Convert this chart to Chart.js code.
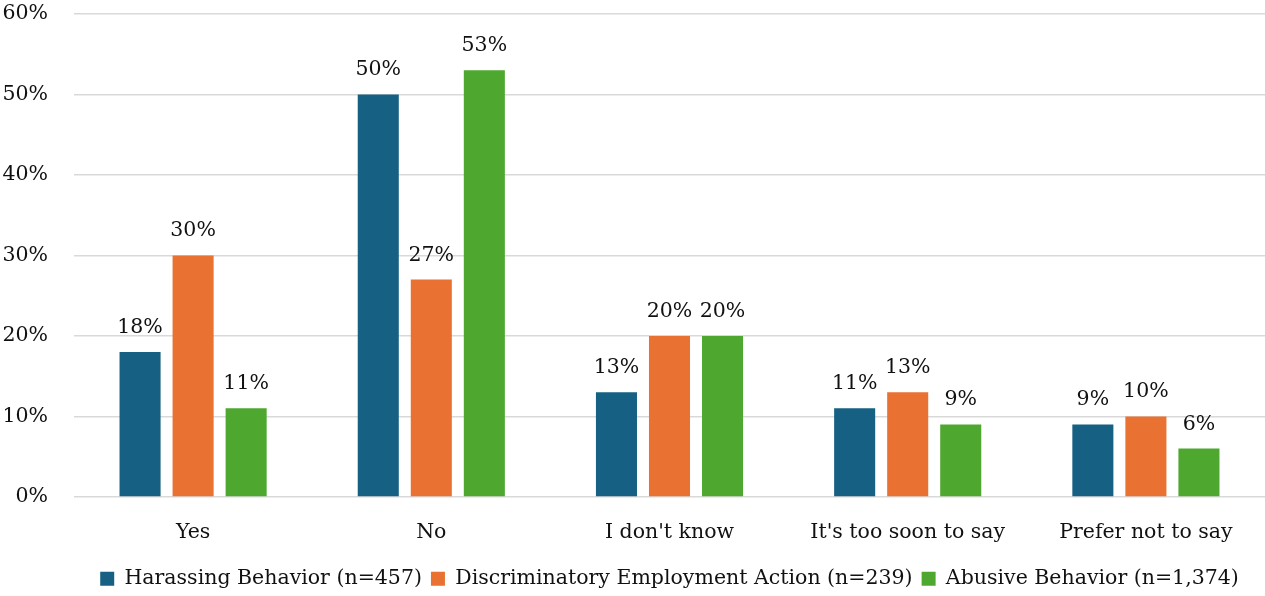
<!DOCTYPE html>
<html>
<head>
<meta charset="utf-8">
<script src="https://cdn.jsdelivr.net/npm/chart.js@4.4.0/dist/chart.umd.min.js"></script>
<style>
  html, body { margin: 0; padding: 0; background: #fff; }
  #wrap { width: 1265px; height: 596px; }
</style>
</head>
<body>
<div id="wrap"><canvas id="chart"></canvas></div>
<script>
// ===============================
// DATA
// ===============================
const categories = ["Yes", "No", "I don't know", "It's too soon to say", "Prefer not to say"];
const harassing = [18, 50, 13, 11, 9];
const discriminatory = [30, 27, 20, 13, 10];
const abusive = [11, 53, 20, 9, 6];
const seriesNames = [
  "Harassing Behavior (n=457)",
  "Discriminatory Employment Action (n=239)",
  "Abusive Behavior (n=1,374)"
];
const seriesColors = ["#166083", "#e97132", "#4ea72e"];

const FONT = "'DejaVu Serif', serif";
const FS = 20.5;

// labels above each bar
const valueLabels = {
  id: "valueLabels",
  afterDatasetsDraw(chart) {
    const ctx = chart.ctx;
    ctx.save();
    ctx.font = FS + "px " + FONT;
    ctx.fillStyle = "#111";
    ctx.textAlign = "center";
    ctx.textBaseline = "alphabetic";
    chart.data.datasets.forEach((ds, i) => {
      chart.getDatasetMeta(i).data.forEach((bar, j) => {
        ctx.fillText(ds.data[j] + "%", bar.x, bar.y - 19);
      });
    });
    ctx.restore();
  }
};

new Chart(document.getElementById("chart"), {
  type: "bar",
  data: {
    labels: categories,
    datasets: [harassing, discriminatory, abusive].map((d, i) => ({
      label: seriesNames[i],
      data: d,
      backgroundColor: seriesColors[i],
      categoryPercentage: 0.668,
      barPercentage: 0.774
    }))
  },
  options: {
    responsive: true,
    maintainAspectRatio: false,
    animation: false,
    layout: { padding: { top: 0, right: 0, left: 0, bottom: -3 } },
    plugins: {
      legend: {
        position: "bottom",
        fullSize: false,
        labels: {
          color: "#111",
          font: { family: FONT, size: FS },
          boxWidth: 14,
          boxHeight: 14,
          padding: 9
        }
      },
      tooltip: { enabled: false }
    },
    scales: {
      x: {
        grid: { display: false },
        border: { display: false },
        ticks: { color: "#111", font: { family: FONT, size: FS }, padding: 15 }
      },
      y: {
        min: 0,
        max: 60,
        afterFit(scale) {
          // keep the label gap without the extra top room it adds
          scale.width = 74;
          scale.paddingTop = 14;
          scale.paddingBottom = 12;
        },
        ticks: {
          stepSize: 10,
          color: "#111",
          font: { family: FONT, size: FS },
          padding: 26,
          callback: v => v + "%"
        },
        grid: { color: "#d9d9d9", lineWidth: 1.5, drawTicks: false },
        border: { display: false }
      }
    }
  },
  plugins: [valueLabels]
});
</script>
</body>
</html>
